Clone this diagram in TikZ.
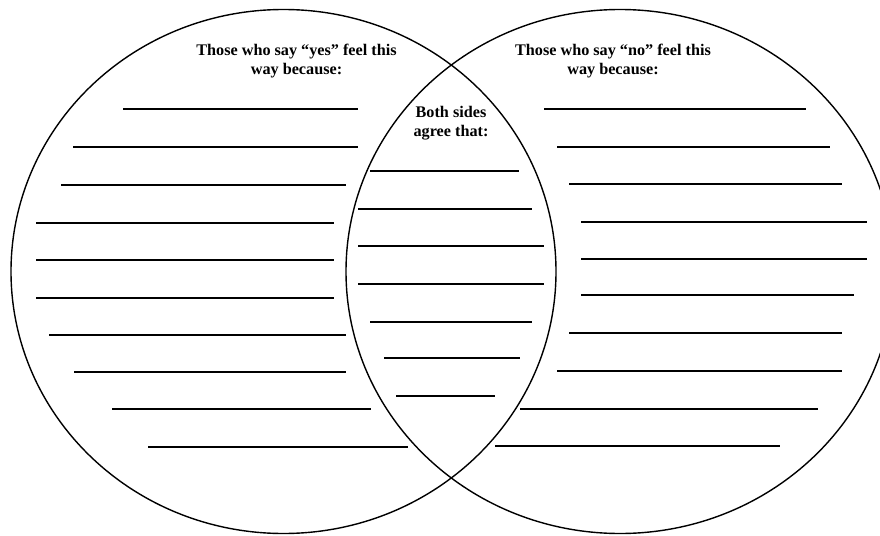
\documentclass[tikz,border=0pt]{standalone}
\usepackage{fontspec}
\setmainfont{Liberation Serif}
\begin{document}
\begin{tikzpicture}[x=1pt,y=-1pt,
  rim/.style={draw=black,line width=1.4pt},
  rule/.style={draw=black,line width=1.8pt},
  heading/.style={align=center,font=\fontsize{16.2}{19.5}\selectfont\bfseries,inner sep=0pt}]
\useasboundingbox (0,0) rectangle (880,535);
\clip (0,0) rectangle (880,535);
\fill[white] (0,0) rectangle (880,535);
% circles
\coordinate (cl) at (283.5,271.5);
\coordinate (cr) at (620,271.5);
\draw[rim] (cl) ellipse [x radius=272.5, y radius=262];
\draw[rim] (cr) ellipse [x radius=274, y radius=262];
% headings
\node[heading] (yes) at (296.5,61) {Those who say “yes” feel this\\way because:};
\node[heading] (no) at (613,61) {Those who say “no” feel this\\way because:};
\node[heading] (both) at (451,123) {Both sides\\agree that:};
% left lines
\foreach \y/\a/\b in {109/123/358, 147/73/358, 185/61/346, 223/36/334, 260/36/334,
  298/36/334, 335/49/346, 372/74/346, 409/112/371, 447/148/408}
  \draw[rule] (\a,\y) -- (\b,\y);
% middle lines
\foreach \y/\a/\b in {171/370/519, 209/358/532, 246/358/544, 284/358/544,
  322/370/532, 358/384/520, 396/396/495}
  \draw[rule] (\a,\y) -- (\b,\y);
% right lines
\foreach \y/\a/\b in {109/544/806, 147/557/830, 184/569/842, 222/581/867, 259/581/867,
  295/581/854, 333/569/842, 371/557/842, 409/520/818, 446/495/780}
  \draw[rule] (\a,\y) -- (\b,\y);
\end{tikzpicture}
\end{document}
